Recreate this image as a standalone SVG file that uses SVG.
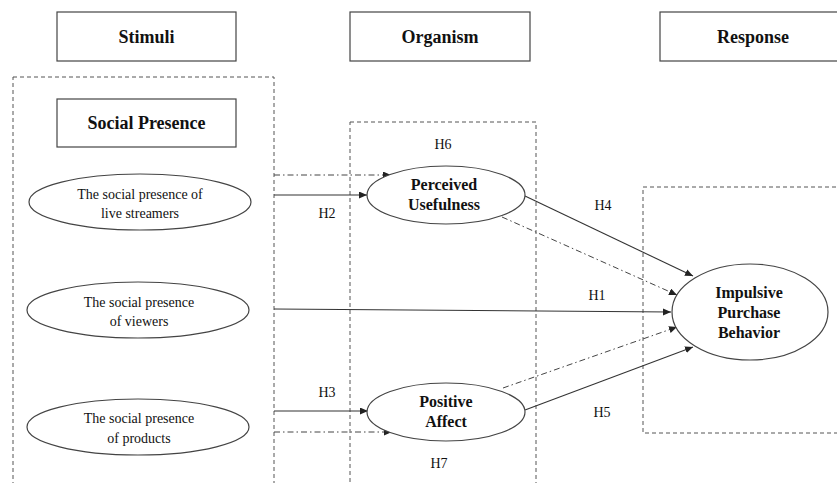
<svg xmlns="http://www.w3.org/2000/svg" width="837" height="483" viewBox="0 0 837 483">
<style>
.hdr{fill:#fff;stroke:#444;stroke-width:1.2}
.grp{fill:none;stroke:#555;stroke-width:1;stroke-dasharray:4 3}
.ell{fill:#fff;stroke:#444;stroke-width:1.2}
.t{font-family:"Liberation Serif","DejaVu Serif",serif;fill:#111;text-anchor:middle}
.b{font-weight:bold}
.h18{font-size:18px}
.n{font-size:14px}
.nb{font-size:16px}
.lab{font-size:14px}
.solid{fill:none;stroke:#333;stroke-width:1.1}
.dd{fill:none;stroke:#444;stroke-width:1;stroke-dasharray:6 3 1.5 3}
</style>
<defs>
<marker id="ah" markerUnits="userSpaceOnUse" markerWidth="9" markerHeight="8" refX="8" refY="3.5" orient="auto">
<path d="M0,0 L8,3.5 L0,7 z" fill="#222"/>
</marker>
</defs>
<rect width="837" height="483" fill="#fff"/>

<g id="stimuli-header"><rect class="hdr" x="57" y="12" width="179" height="49"/><text class="t b h18" x="146.5" y="43">Stimuli</text></g>
<g id="organism-header"><rect class="hdr" x="350" y="12" width="180" height="49"/><text class="t b h18" x="440" y="43">Organism</text></g>
<g id="response-header"><rect class="hdr" x="660" y="12" width="200" height="49"/><text class="t b h18" x="753" y="43">Response</text></g>

<g id="stimuli-group"><rect class="grp" x="13" y="77" width="261" height="430"/></g>
<g id="organism-group"><rect class="grp" x="350" y="122" width="186" height="400"/></g>
<g id="response-group"><rect class="grp" x="643" y="187" width="230" height="246"/></g>

<g id="social-presence"><rect class="hdr" x="57" y="99" width="179" height="48"/><text class="t b h18" x="146.5" y="129">Social Presence</text></g>

<g id="connectors">
<line class="dd" x1="274" y1="175" x2="391" y2="175" marker-end="url(#ah)"/>
<line class="solid" x1="274" y1="195" x2="367" y2="195" marker-end="url(#ah)"/>
<line class="solid" x1="274" y1="309" x2="671" y2="312" marker-end="url(#ah)"/>
<line class="solid" x1="274" y1="411" x2="368" y2="411" marker-end="url(#ah)"/>
<line class="dd" x1="274" y1="432" x2="392" y2="432" marker-end="url(#ah)"/>
<line class="solid" x1="525" y1="196" x2="693" y2="276" marker-end="url(#ah)"/>
<line class="dd" x1="502" y1="217" x2="677" y2="295" marker-end="url(#ah)"/>
<line class="solid" x1="525" y1="410" x2="693" y2="347" marker-end="url(#ah)"/>
<line class="dd" x1="503" y1="388" x2="677" y2="327" marker-end="url(#ah)"/>
</g>

<g id="sp-streamers"><ellipse class="ell" cx="140" cy="202" rx="111" ry="28"/><text class="t n" x="140" y="199">The social presence of</text><text class="t n" x="140" y="218">live streamers</text></g>
<g id="sp-viewers"><ellipse class="ell" cx="138" cy="310" rx="111" ry="28"/><text class="t n" x="139" y="307">The social presence</text><text class="t n" x="139" y="326">of viewers</text></g>
<g id="sp-products"><ellipse class="ell" cx="138" cy="427" rx="111" ry="28"/><text class="t n" x="139" y="423">The social presence</text><text class="t n" x="139" y="443">of products</text></g>

<g id="perceived-usefulness"><ellipse class="ell" cx="446" cy="195" rx="79" ry="29"/><text class="t b nb" x="444" y="190">Perceived</text><text class="t b nb" x="444" y="210">Usefulness</text></g>
<g id="positive-affect"><ellipse class="ell" cx="446" cy="412" rx="79" ry="29"/><text class="t b nb" x="446" y="407">Positive</text><text class="t b nb" x="446" y="427">Affect</text></g>
<g id="impulsive-purchase"><ellipse class="ell" cx="750" cy="312" rx="78" ry="48"/><text class="t b nb" x="749" y="298">Impulsive</text><text class="t b nb" x="749" y="318">Purchase</text><text class="t b nb" x="749" y="338">Behavior</text></g>

<g id="labels">
<text class="t lab" x="443" y="149">H6</text>
<text class="t lab" x="327" y="218">H2</text>
<text class="t lab" x="603" y="210">H4</text>
<text class="t lab" x="597" y="300">H1</text>
<text class="t lab" x="327" y="397">H3</text>
<text class="t lab" x="602" y="417">H5</text>
<text class="t lab" x="439" y="468">H7</text>
</g>
</svg>
